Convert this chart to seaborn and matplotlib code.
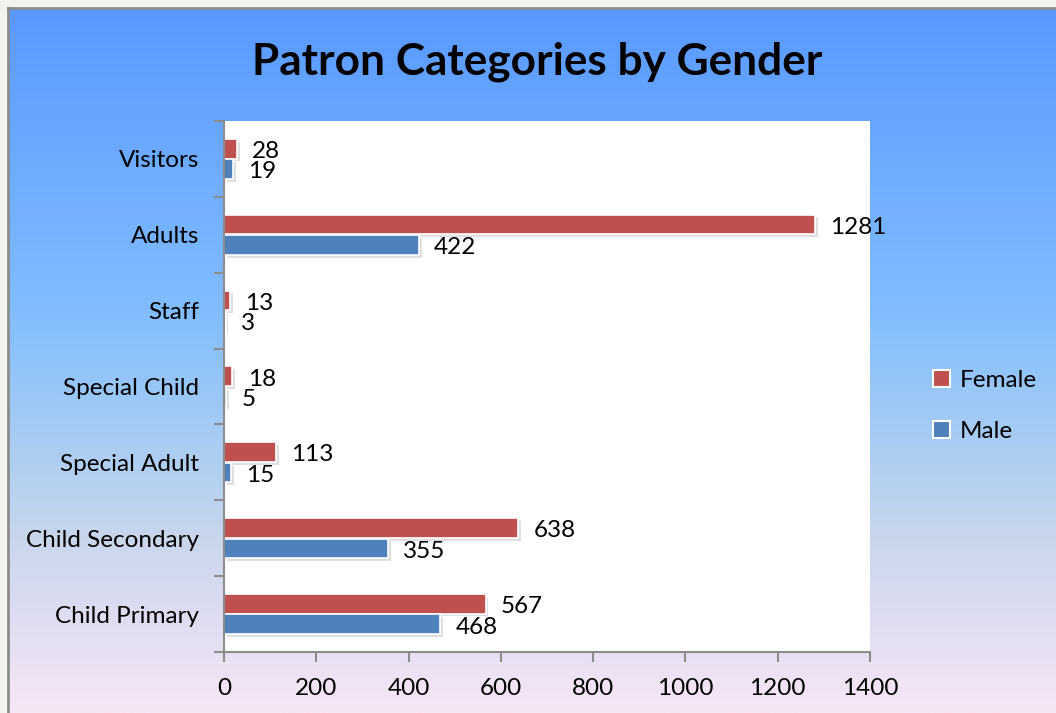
import numpy as np
import pandas as pd
import matplotlib
matplotlib.use("Agg")
import matplotlib.pyplot as plt
import seaborn as sns
from matplotlib.colors import LinearSegmentedColormap
import matplotlib.patheffects as pe

categories = ["Visitors", "Adults", "Staff", "Special Child", "Special Adult",
              "Child Secondary", "Child Primary"]
female = [28, 1281, 13, 18, 113, 638, 567]
male = [19, 422, 3, 5, 15, 355, 468]
genders = ["Female", "Male"]
colors = ["#C0504D", "#4F81BD"]
xticks = [0, 200, 400, 600, 800, 1000, 1200, 1400]
title = "Patron Categories by Gender"

df = pd.DataFrame({
    "Category": categories * 2,
    "Gender": ["Female"] * len(categories) + ["Male"] * len(categories),
    "Count": female + male,
})

sns.set_theme(style="white")
plt.rcParams["font.family"] = ["Lato", "DejaVu Sans"]
plt.rcParams["text.color"] = "black"
plt.rcParams["xtick.color"] = "black"
plt.rcParams["ytick.color"] = "black"

W, H = 1056, 713
fig = plt.figure(figsize=(W / 100, H / 100), dpi=100)
fig.patch.set_facecolor("#F4F2EC")

# gradient background panel
bg = fig.add_axes([8 / W, 0, 1 - 8 / W, 1 - 8 / H], zorder=-10)
stops = [(0.0, (88/255, 153/255, 255/255)),
         (0.42, (128/255, 188/255, 255/255)),
         (0.58, (160/255, 202/255, 245/255)),
         (0.75, (200/255, 214/255, 236/255)),
         (0.88, (225/255, 222/255, 242/255)),
         (1.0, (247/255, 230/255, 246/255))]
cmap = LinearSegmentedColormap.from_list("bg", stops)
grad = np.linspace(0, 1, 512).reshape(-1, 1)
bg.imshow(grad, aspect="auto", cmap=cmap, extent=[0, 1, 1, 0])
bg.set_xlim(0, 1)
bg.set_ylim(1, 0)
bg.set_xticks([])
bg.set_yticks([])
for s in ["top", "left"]:
    bg.spines[s].set_color("#8C8C8C")
    bg.spines[s].set_linewidth(2)
for s in ["bottom", "right"]:
    bg.spines[s].set_visible(False)

ax = fig.add_axes([224 / W, 1 - 652 / H, (870 - 224) / W, (652 - 121) / H])
ax.set_facecolor("white")
sns.barplot(data=df, y="Category", x="Count", hue="Gender", order=categories,
            hue_order=genders, palette=colors, saturation=1, orient="h", width=0.54,
            edgecolor="white", linewidth=1.2, ax=ax, legend=True, gap=0.04)

for cont in ax.containers:
    for bar in cont:
        bar.set_path_effects([pe.SimplePatchShadow(offset=(2, -2), alpha=0.25, shadow_rgbFace="gray"),
                              pe.Normal()])
    texts = ax.bar_label(cont, labels=[str(int(v)) for v in cont.datavalues], padding=11,
                         fontsize=17.5, color="black", clip_on=False)
    for t in texts:
        t.xyann = (t.xyann[0], t.xyann[1] - 2)

ax.set_xlim(0, 1400)
ax.set_ylim(len(categories) - 0.5, -0.5)
ax.set_xticks(xticks)
ax.set_xticklabels([str(t) for t in xticks], fontsize=17.5)
ax.set_xlabel("")
ax.set_ylabel("")
ax.set_yticks(np.arange(-0.5, len(categories), 1.0), minor=True)
ax.tick_params(axis="y", which="major", left=True, length=0, pad=18, labelsize=17.5,
               labelcolor="black")
ax.tick_params(axis="y", which="minor", left=True, length=7, width=1.5, color="#8C8C8C",
               direction="out")
ax.tick_params(axis="x", which="major", bottom=True, length=7, width=1.5, color="#8C8C8C",
               direction="out", pad=12, labelcolor="black")
for s in ["top", "right"]:
    ax.spines[s].set_visible(False)
for s in ["left", "bottom"]:
    ax.spines[s].set_color("#8C8C8C")
    ax.spines[s].set_linewidth(1.5)

handles, labels = ax.get_legend_handles_labels()
ax.legend_.remove()
leg = fig.legend(handles, labels, loc="center left", bbox_to_anchor=(911 / W, 1 - 406 / H),
                 frameon=False, fontsize=17.5, handlelength=0.7, handleheight=0.7,
                 labelspacing=1.2, handletextpad=0.4)
for h in leg.legend_handles:
    h.set_edgecolor("white")
    h.set_linewidth(1.5)

fig.text(537 / W, 1 - 62 / H, title, ha="center", va="center", fontsize=31.8,
         fontweight="bold", color="black")

fig.savefig("out.png", dpi=100)
